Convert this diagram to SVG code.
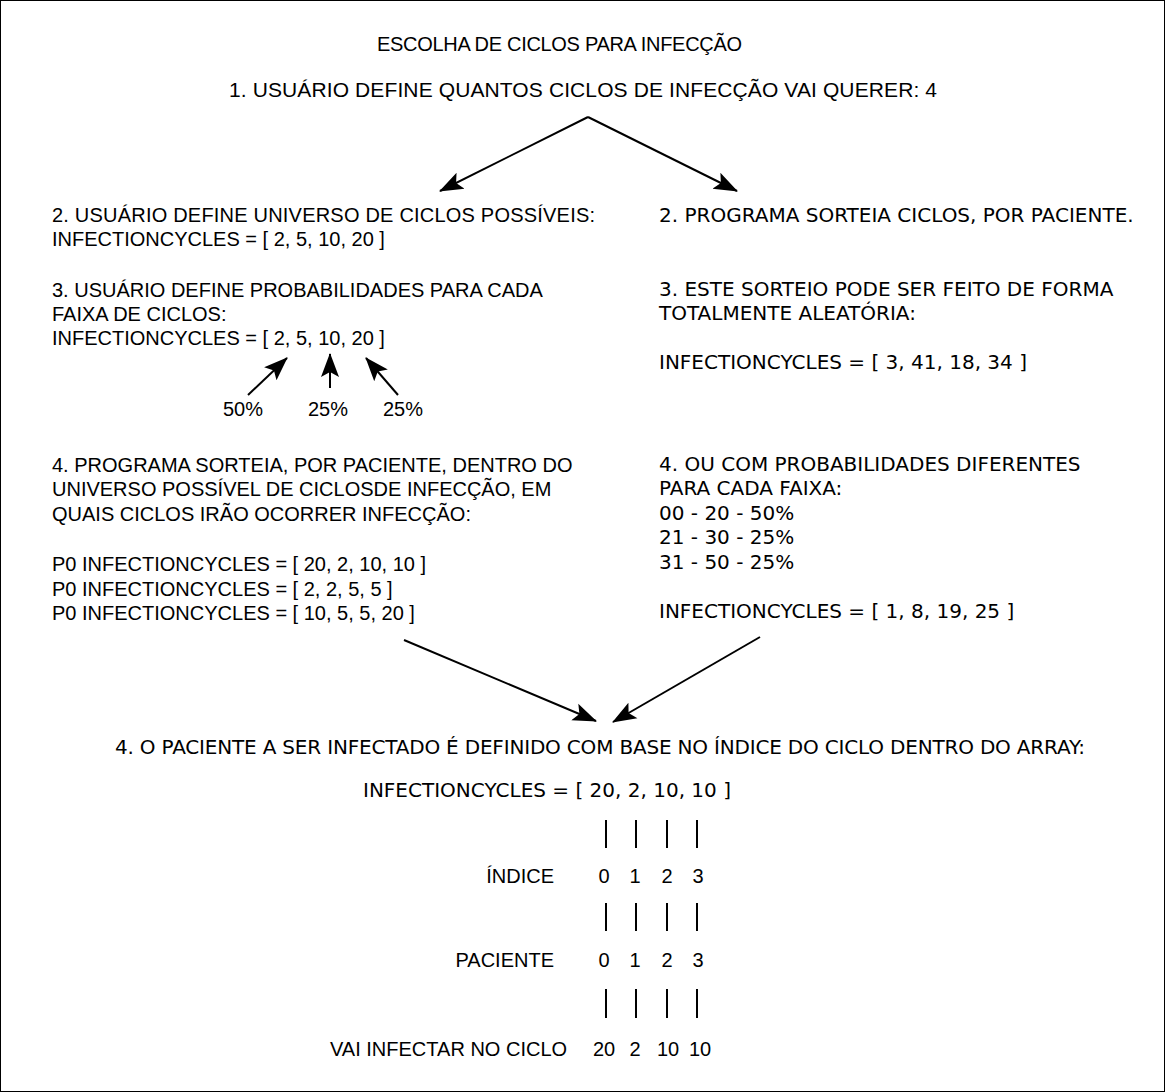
<svg xmlns="http://www.w3.org/2000/svg" width="1165" height="1092" viewBox="0 0 1165 1092">
<style>
.a{font-family:"Liberation Sans",Arial,sans-serif;font-size:20px;fill:#000}
.d{font-family:"DejaVu Sans",sans-serif;font-size:20px;fill:#000}
.m{text-anchor:middle}
.e{text-anchor:end}
.c{stroke:#000;stroke-width:2;fill:none}
.bar{stroke:#000;stroke-width:2}
</style>
<defs>
<marker id="ah" markerUnits="userSpaceOnUse" viewBox="0 0 24 20" refX="23" refY="10" markerWidth="24" markerHeight="20" orient="auto">
<path d="M24,10 L0,1 L5,10 L0,19 Z" fill="#000"/>
</marker>
</defs>
<rect x="0.5" y="0.5" width="1164" height="1091" fill="#fff" stroke="#000" stroke-width="1"/>
<g id="title"><text class="a" x="377" y="51" textLength="365" lengthAdjust="spacing">ESCOLHA DE CICLOS PARA INFECÇÃO</text></g>
<g id="step1"><text class="a" x="229" y="97" style="font-size:21px" textLength="708" lengthAdjust="spacing">1. USUÁRIO DEFINE QUANTOS CICLOS DE INFECÇÃO VAI QUERER: 4</text></g>
<g id="left2">
<text class="a" x="52" y="222" textLength="543" lengthAdjust="spacing">2. USUÁRIO DEFINE UNIVERSO DE CICLOS POSSÍVEIS:</text>
<text class="a" x="52" y="246">INFECTIONCYCLES = [ 2, 5, 10, 20 ]</text>
</g>
<g id="left3">
<text class="a" x="52" y="297">3. USUÁRIO DEFINE PROBABILIDADES PARA CADA</text>
<text class="a" x="52" y="321">FAIXA DE CICLOS:</text>
<text class="a" x="52" y="345">INFECTIONCYCLES = [ 2, 5, 10, 20 ]</text>
</g>
<g id="pct">
<text class="a m" x="243" y="416">50%</text>
<text class="a m" x="328" y="416">25%</text>
<text class="a m" x="403" y="416">25%</text>
</g>
<g id="left4">
<text class="a" x="52" y="472">4. PROGRAMA SORTEIA, POR PACIENTE, DENTRO DO</text>
<text class="a" x="52" y="496">UNIVERSO POSSÍVEL DE CICLOSDE INFECÇÃO, EM</text>
<text class="a" x="52" y="521">QUAIS CICLOS IRÃO OCORRER INFECÇÃO:</text>
<text class="a" x="52" y="571">P0 INFECTIONCYCLES = [ 20, 2, 10, 10 ]</text>
<text class="a" x="52" y="596">P0 INFECTIONCYCLES = [ 2, 2, 5, 5 ]</text>
<text class="a" x="52" y="620">P0 INFECTIONCYCLES = [ 10, 5, 5, 20 ]</text>
</g>
<g id="right2"><text class="d" x="659" y="222">2. PROGRAMA SORTEIA CICLOS, POR PACIENTE.</text></g>
<g id="right3">
<text class="d" x="659" y="296">3. ESTE SORTEIO PODE SER FEITO DE FORMA</text>
<text class="d" x="659" y="320">TOTALMENTE ALEATÓRIA:</text>
<text class="d" x="659" y="369">INFECTIONCYCLES = [ 3, 41, 18, 34 ]</text>
</g>
<g id="right4">
<text class="d" x="659" y="471">4. OU COM PROBABILIDADES DIFERENTES</text>
<text class="d" x="659" y="495">PARA CADA FAIXA:</text>
<text class="d" x="659" y="520">00 - 20 - 50%</text>
<text class="d" x="659" y="544">21 - 30 - 25%</text>
<text class="d" x="659" y="569">31 - 50 - 25%</text>
<text class="d" x="659" y="618">INFECTIONCYCLES = [ 1, 8, 19, 25 ]</text>
</g>
<g id="bottom">
<text class="d" x="115" y="754" textLength="970" lengthAdjust="spacing">4. O PACIENTE A SER INFECTADO É DEFINIDO COM BASE NO ÍNDICE DO CICLO DENTRO DO ARRAY:</text>
<text class="d" x="363" y="797">INFECTIONCYCLES = [ 20, 2, 10, 10 ]</text>
</g>
<g id="table">
<text class="a e" x="554" y="883">ÍNDICE</text>
<text class="a m" x="604" y="883">0</text>
<text class="a m" x="635" y="883">1</text>
<text class="a m" x="667" y="883">2</text>
<text class="a m" x="698" y="883">3</text>
<text class="a e" x="554" y="967">PACIENTE</text>
<text class="a m" x="604" y="967">0</text>
<text class="a m" x="635" y="967">1</text>
<text class="a m" x="667" y="967">2</text>
<text class="a m" x="698" y="967">3</text>
<text class="a" x="330" y="1056">VAI INFECTAR NO CICLO</text>
<text class="a m" x="604" y="1056">20</text>
<text class="a m" x="635" y="1056">2</text>
<text class="a m" x="668" y="1056">10</text>
<text class="a m" x="700" y="1056">10</text>
<path class="bar" d="M606,820V848M636,820V848M667,820V848M697,820V848M606,903V931M636,903V931M667,903V931M697,903V931M606,989V1018M636,989V1018M667,989V1018M697,989V1018"/>
</g>
<g id="connectors">
<line class="c" x1="588" y1="117" x2="440" y2="191" marker-end="url(#ah)"/>
<line class="c" x1="588" y1="117" x2="737" y2="191" marker-end="url(#ah)"/>
<line class="c" x1="248" y1="395" x2="287" y2="358" marker-end="url(#ah)"/>
<line class="c" x1="330" y1="388" x2="330" y2="354" marker-end="url(#ah)"/>
<line class="c" x1="398" y1="395" x2="366" y2="358" marker-end="url(#ah)"/>
<line class="c" x1="404" y1="640" x2="596" y2="721" marker-end="url(#ah)"/>
<line class="c" x1="760" y1="637" x2="613" y2="722" marker-end="url(#ah)"/>
</g>
</svg>
